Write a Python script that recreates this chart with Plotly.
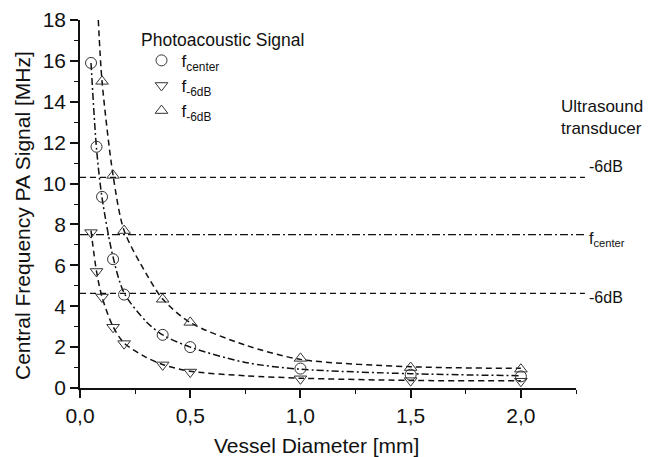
import plotly.graph_objects as go

# ---- data ----
diam_center = [0.05, 0.075, 0.1, 0.15, 0.2, 0.375, 0.5, 1.0, 1.5, 2.0]
f_center = [15.9, 11.8, 9.35, 6.3, 4.57, 2.6, 2.0, 0.95, 0.65, 0.57]

diam_lower = [0.05, 0.075, 0.1, 0.15, 0.2, 0.375, 0.5, 1.0, 1.5, 2.0]
f_lower = [7.6, 5.7, 4.45, 2.97, 2.17, 1.13, 0.78, 0.45, 0.36, 0.33]

diam_upper = [0.1, 0.15, 0.2, 0.375, 0.5, 1.0, 1.5, 2.0]
f_upper = [15.0, 10.4, 7.7, 4.34, 3.21, 1.45, 1.0, 0.92]

# fitted curves
fit_center_x = [0.05, 0.075, 0.1, 0.15, 0.2, 0.3, 0.375, 0.5, 0.75, 1.0, 1.5, 2.0]
fit_center_y = [15.9, 11.7, 9.3, 6.4, 4.65, 3.25, 2.6, 2.0, 1.25, 0.92, 0.7, 0.6]

fit_lower_x = [0.05, 0.075, 0.1, 0.15, 0.2, 0.3, 0.375, 0.5, 0.75, 1.0, 1.5, 2.0]
fit_lower_y = [7.7, 5.7, 4.45, 3.0, 2.2, 1.5, 1.15, 0.82, 0.6, 0.48, 0.37, 0.35]

fit_upper_x = [0.083, 0.1, 0.15, 0.2, 0.3, 0.375, 0.5, 0.75, 1.0, 1.5, 2.0]
fit_upper_y = [18.0, 15.0, 10.4, 7.7, 5.6, 4.35, 3.2, 2.1, 1.4, 1.04, 0.96]

# ultrasound transducer levels
transducer_levels = [10.3, 7.5, 4.63]
transducer_labels = ["-6dB", "f<sub>center</sub>", "-6dB"]
transducer_dash = ["6px,4px", "8px,3px,2px,3px", "6px,4px"]
label_shift = [11, -5, -4]

FONT = "Liberation Sans, Arial, sans-serif"
INK = "#111111"
# the page body adds an 8px offset; margins compensate for it
PAGE_OFFSET = 8

fig = go.Figure()

# fitted curves
fig.add_trace(go.Scatter(x=fit_center_x, y=fit_center_y, mode="lines",
                         line=dict(color=INK, width=1.5, dash="7px,3px,2px,3px", shape="spline", smoothing=0.8),
                         showlegend=False, hoverinfo="skip"))
fig.add_trace(go.Scatter(x=fit_lower_x, y=fit_lower_y, mode="lines",
                         line=dict(color=INK, width=1.5, dash="6px,4px", shape="spline", smoothing=0.8),
                         showlegend=False, hoverinfo="skip"))
fig.add_trace(go.Scatter(x=fit_upper_x, y=fit_upper_y, mode="lines",
                         line=dict(color=INK, width=1.5, dash="6px,4px", shape="spline", smoothing=0.8),
                         showlegend=False, hoverinfo="skip"))

# markers
mk = dict(size=11, color="#333333", line=dict(color="#333333", width=1))
fig.add_trace(go.Scatter(x=diam_center, y=f_center, mode="markers", name="f<sub>center</sub>",
                         legendgroup="c", marker=dict(symbol="circle-open", **mk), cliponaxis=False))
fig.add_trace(go.Scatter(x=diam_lower, y=f_lower, mode="markers", name="f<sub>-6dB</sub>",
                         legendgroup="l", marker=dict(symbol="triangle-down-open", **mk), cliponaxis=False))
fig.add_trace(go.Scatter(x=diam_upper, y=f_upper, mode="markers", name="f<sub>-6dB</sub>",
                         legendgroup="u", marker=dict(symbol="triangle-up-open", **mk), cliponaxis=False))

# transducer lines and labels
for lvl, lab, dsh, sh in zip(transducer_levels, transducer_labels, transducer_dash, label_shift):
    fig.add_shape(type="line", xref="paper", yref="y", x0=0, x1=1.018, y0=lvl, y1=lvl,
                  line=dict(color=INK, width=1.3, dash=dsh))
    fig.add_annotation(xref="paper", yref="y", x=1.022, y=lvl, text=lab, showarrow=False,
                       xanchor="left", yanchor="middle", yshift=sh,
                       font=dict(family=FONT, size=16, color=INK))

fig.add_annotation(xref="paper", yref="paper", x=0.966, y=0.736, text="Ultrasound<br>transducer",
                   showarrow=False, xanchor="left", yanchor="middle", align="left",
                   font=dict(family=FONT, size=17, color=INK))

# legend heading
fig.add_annotation(xref="paper", yref="paper", x=0.119, y=0.946, text="Photoacoustic Signal",
                   showarrow=False, xanchor="left", yanchor="middle",
                   font=dict(family=FONT, size=17.5, color=INK))

# axis titles
fig.add_annotation(xref="paper", yref="paper", x=0.476, y=-0.155, text="Vessel Diameter [mm]",
                   showarrow=False, xanchor="center", yanchor="middle",
                   font=dict(family=FONT, size=21, color=INK))
fig.add_annotation(xref="paper", yref="paper", x=-0.117, y=0.47, text="Central Frequency PA Signal [MHz]",
                   showarrow=False, xanchor="center", yanchor="middle", textangle=-90,
                   font=dict(family=FONT, size=21, color=INK))

fig.update_layout(
    width=652, height=457,
    margin=dict(l=80 - PAGE_OFFSET, r=76 + PAGE_OFFSET, t=20 - PAGE_OFFSET, b=69 + PAGE_OFFSET,
                autoexpand=False),
    paper_bgcolor="white", plot_bgcolor="white",
    separators=",.",
    font=dict(family=FONT, color=INK),
    showlegend=True,
    legend=dict(x=0.124, y=0.938, xanchor="left", yanchor="top",
                bgcolor="rgba(0,0,0,0)", font=dict(family=FONT, size=17, color=INK),
                itemwidth=30, tracegroupgap=0),
    xaxis=dict(range=[0, 2.25], tick0=0, dtick=0.5, tickformat=".1f",
               showgrid=False, zeroline=False, showline=True, linecolor=INK, linewidth=1.5,
               ticks="outside", ticklen=8, tickwidth=1.5, tickcolor=INK,
               tickfont=dict(family=FONT, size=21, color=INK),
               minor=dict(dtick=0.25, ticks="outside", ticklen=4, tickwidth=1.2, tickcolor=INK, showgrid=False)),
    yaxis=dict(range=[0, 18], tick0=0, dtick=2,
               showgrid=False, zeroline=False, showline=True, linecolor=INK, linewidth=1.5,
               ticks="outside", ticklen=8, tickwidth=1.5, tickcolor=INK,
               tickfont=dict(family=FONT, size=21, color=INK),
               minor=dict(dtick=1, ticks="outside", ticklen=4, tickwidth=1.2, tickcolor=INK, showgrid=False)),
)

fig.write_html("out.html")
